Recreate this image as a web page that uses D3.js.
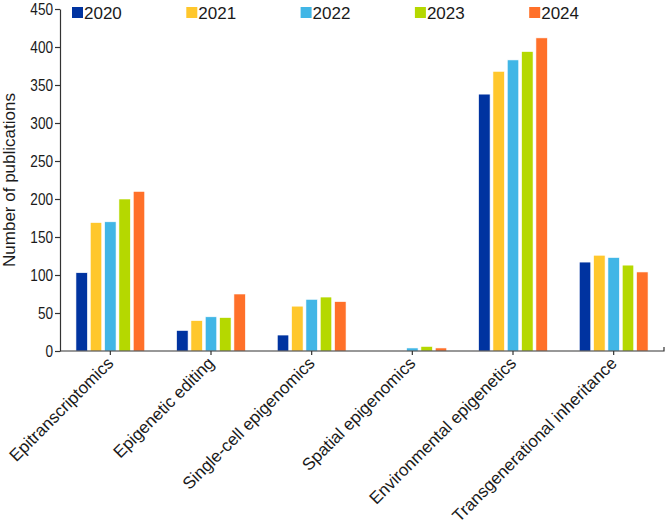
<!DOCTYPE html>
<html>
<head>
<meta charset="utf-8">
<script src="https://cdn.jsdelivr.net/npm/d3@7"></script>
<style>
  body { margin: 0; background: #fff; }
  svg text { font-family: "Liberation Sans", Arial, sans-serif; fill: #1a1a1a; }
</style>
</head>
<body>
<script>
const categories = ["Epitranscriptomics", "Epigenetic editing", "Single-cell epigenomics",
                    "Spatial epigenomics", "Environmental epigenetics", "Transgenerational inheritance"];
const years = ["2020", "2021", "2022", "2023", "2024"];
const values2020 = [103, 27, 21, 0, 338, 117];
const values2021 = [169, 40, 59, 0, 368, 126];
const values2022 = [170, 45, 68, 4, 383, 123];
const values2023 = [200, 44, 71, 6, 394, 113];
const values2024 = [210, 75, 65, 4, 412, 104];
const yTicks = [0, 50, 100, 150, 200, 250, 300, 350, 400, 450];
const colors = ["#0033a0", "#ffc72c", "#41b6e6", "#b5d800", "#ff7029"];

const series = [values2020, values2021, values2022, values2023, values2024];

const w = 666, h = 527;
const plotLeft = 60, plotRight = 664, plotTop = 9, plotBottom = 351;

const svg = d3.select("body").append("svg")
  .attr("width", w).attr("height", h);

const x0 = d3.scaleBand().domain(categories).range([plotLeft, plotRight]).paddingInner(0.26).paddingOuter(0.13);
const x1 = d3.scaleBand().domain(years).range([0, x0.bandwidth()]).padding(0.2);
const y = d3.scaleLinear().domain([0, 450]).range([plotBottom, plotTop]);

// bars
const groups = svg.selectAll("g.cat")
  .data(categories)
  .enter().append("g")
  .attr("class", "cat")
  .attr("transform", d => "translate(" + x0(d) + ",0)");

groups.selectAll("rect")
  .data((d, i) => years.map((yr, j) => ({ yr: yr, v: series[j][i], c: colors[j] })))
  .enter().append("rect")
  .attr("x", d => x1(d.yr))
  .attr("width", x1.bandwidth())
  .attr("y", d => y(d.v))
  .attr("height", d => plotBottom - y(d.v))
  .attr("fill", d => d.c)
  .attr("stroke", "#fff")
  .attr("stroke-width", 0.6);

// y axis (labels in the source are a bit condensed)
const yAxis = d3.axisLeft(y).tickValues(yTicks).tickSize(5).tickSizeOuter(0);
const gy = svg.append("g")
  .attr("transform", "translate(" + plotLeft + ",0)")
  .call(yAxis);
gy.selectAll("text")
  .attr("font-size", 17)
  .attr("x", -7 / 0.8)
  .attr("transform", "scale(0.8,1)")
  .attr("fill", "#1a1a1a");

// x axis
const xAxis = d3.axisBottom(x0).tickSize(4).tickSizeOuter(0);
const gx = svg.append("g")
  .attr("transform", "translate(0," + plotBottom + ")")
  .call(xAxis);
gx.select(".domain").attr("d", "M" + plotLeft + ",0H" + plotRight + "V-4");
gx.selectAll("text")
  .attr("font-size", 17)
  .attr("text-anchor", "end")
  .attr("dy", "0.35em")
  .attr("transform", "translate(0,9) rotate(-45)")
  .attr("x", 0).attr("y", 0);

svg.selectAll(".domain, .tick line").attr("stroke", "#333").attr("stroke-width", 1.2);

// y label
svg.append("text")
  .attr("transform", "rotate(-90)")
  .attr("x", -(plotTop + plotBottom) / 2)
  .attr("y", 15)
  .attr("text-anchor", "middle")
  .attr("font-size", 17)
  .text("Number of publications");

// legend
const legend = svg.append("g");
years.forEach((yr, i) => {
  const lx = 72 + i * 114.3;
  legend.append("rect").attr("x", lx).attr("y", 7).attr("width", 11).attr("height", 11).attr("fill", colors[i]);
  legend.append("text").attr("x", lx + 12).attr("y", 18.5).attr("font-size", 17).text(yr);
});
</script>
</body>
</html>
